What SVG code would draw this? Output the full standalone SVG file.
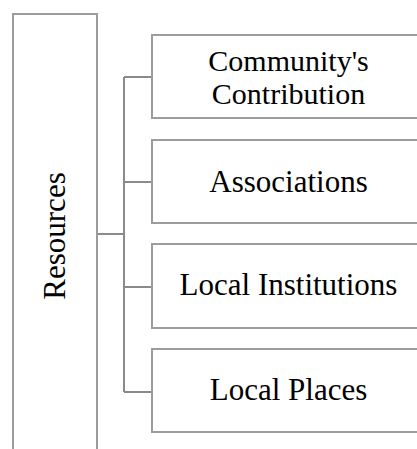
<svg xmlns="http://www.w3.org/2000/svg" width="417" height="449" viewBox="0 0 417 449">
<style>
.box{fill:#fff;stroke:#9c9c9c;stroke-width:2}
.conn{fill:none;stroke:#8a8a8a;stroke-width:2}
.t{font-family:"Liberation Serif","Times New Roman",serif;font-size:31px;fill:#000;text-anchor:middle}
.t2{font-size:30px}
</style>
<rect width="417" height="449" fill="#fff"/>
<g id="connectors">
<path class="conn" d="M97,234 H124 M124,77 V392 M124,77 H152 M124,182 H152 M124,287 H152 M124,392 H152"/>
</g>
<g id="resources">
<rect class="box" x="13" y="14" width="84" height="460"/>
<text class="t" transform="translate(65,236) rotate(-90)" x="0" y="0">Resources</text>
</g>
<g id="community">
<rect class="box" x="152" y="35" width="300" height="83"/>
<text class="t t2" x="288.5" y="70.5">Community's</text>
<text class="t t2" x="288.5" y="104">Contribution</text>
</g>
<g id="associations">
<rect class="box" x="152" y="140" width="300" height="83"/>
<text class="t" x="288.5" y="192">Associations</text>
</g>
<g id="institutions">
<rect class="box" x="152" y="244" width="300" height="84"/>
<text class="t" x="288.5" y="295">Local Institutions</text>
</g>
<g id="places">
<rect class="box" x="152" y="349" width="300" height="83"/>
<text class="t" x="288.5" y="400">Local Places</text>
</g>
</svg>
